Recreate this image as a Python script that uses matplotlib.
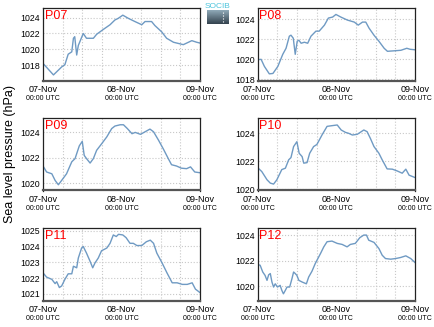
import numpy as np
import matplotlib
matplotlib.use('Agg')
import matplotlib.pyplot as plt

plt.rcParams['font.family'] = ['Liberation Sans', 'DejaVu Sans']

# hours since 07-Nov 00:00 UTC and sea level pressure (hPa) per station
p07_t = [0, 3.2, 5.7, 6.7, 7.7, 8.8, 9.3, 9.7, 10.3, 10.8, 12.3, 13.3, 15.4, 16.4, 18.4, 20.5,
         22, 23, 24.4, 26.1, 28.1, 30.2, 31.2, 33.2, 34.2, 36.3, 37.8, 39.9, 42.9, 45.5, 47, 48]
p07_v = [1018.25, 1016.8, 1017.8, 1018.1, 1019.4, 1019.7, 1021.4, 1021.6, 1019.3, 1020.5, 1022.0,
         1021.4, 1021.4, 1021.9, 1022.5, 1023.1, 1023.7, 1023.9, 1024.3, 1023.9, 1023.5, 1023.1,
         1023.5, 1023.5, 1023.0, 1022.2, 1021.4, 1020.9, 1020.6, 1021.1, 1020.9, 1020.8]

p08_t = [0, 1.1, 2.1, 3.6, 4.7, 6.2, 7.7, 8.7, 9.7, 10.2, 10.9, 11.5, 12.1, 12.6, 13.3, 14.3, 15.3,
         16.3, 17.8, 18.8, 20.4, 21.6, 22.9, 23.9, 25.4, 27.4, 29.5, 30.7, 32, 33, 34, 35.5, 37,
         38.6, 39.6, 41.7, 43.7, 45.5, 46.5, 48]
p08_v = [1019.97, 1020.0, 1019.3, 1018.56, 1018.6, 1019.3, 1020.5, 1021.1, 1022.3, 1022.4, 1022.1,
         1020.5, 1021.8, 1021.9, 1021.6, 1021.7, 1021.6, 1022.3, 1022.8, 1022.8, 1023.4, 1024.1,
         1024.2, 1024.46, 1024.2, 1023.9, 1023.7, 1023.4, 1023.7, 1023.7, 1023.1, 1022.4, 1021.8,
         1021.1, 1020.8, 1020.85, 1020.9, 1021.1, 1021.0, 1020.95]

p09_t = [0, 1.1, 2.7, 3.7, 4.7, 5.7, 7.2, 8.8, 9.8, 11.1, 12, 12.6, 13.3, 14.4, 15.4, 16.4, 17.9,
         19.5, 21, 22, 23.6, 24.6, 25.8, 27.2, 28.2, 29.8, 31.2, 32.7, 33.8, 35.3, 36.8, 38.3,
         39.3, 40.8, 42.3, 43.9, 45.1, 46.4, 48]
p09_v = [1021.37, 1020.9, 1020.76, 1020.24, 1019.9, 1020.24, 1020.76, 1021.7, 1021.95, 1022.95,
         1023.3, 1022.2, 1021.95, 1021.6, 1021.95, 1022.6, 1023.1, 1023.65, 1024.3, 1024.5, 1024.6,
         1024.6, 1024.3, 1023.9, 1024.0, 1023.85, 1024.05, 1024.26, 1024.05, 1023.4, 1022.7,
         1021.95, 1021.47, 1021.37, 1021.2, 1021.16, 1021.3, 1020.9, 1020.84]

p10_t = [0, 1.3, 2.9, 3.9, 4.9, 5.9, 7.4, 8.5, 9.5, 10.2, 11, 12, 12.7, 13.6, 14.1, 15.1, 15.9,
         17.1, 18.1, 19.7, 21.2, 22.7, 24.3, 25.5, 26.8, 27.8, 28.9, 30.4, 32.4, 33.4, 34.4, 35.5,
         37, 38, 39.5, 41.1, 42.6, 44.1, 45.2, 46.2, 48]
p10_v = [1021.55, 1021.26, 1020.67, 1020.43, 1020.36, 1020.67, 1021.4, 1021.5, 1022.1, 1022.26,
         1023.05, 1023.4, 1022.57, 1022.33, 1021.86, 1021.9, 1022.57, 1023.05, 1023.2, 1023.9,
         1024.5, 1024.55, 1024.6, 1024.24, 1024.07, 1024.0, 1023.88, 1023.93, 1024.24, 1024.12,
         1023.64, 1023.05, 1022.57, 1022.1, 1021.45, 1021.43, 1021.3, 1021.14, 1021.43, 1021.0,
         1020.83]

p11_t = [0, 1.1, 2.7, 3.7, 4.2, 5, 5.7, 6.7, 7.7, 8.8, 9.3, 10.3, 10.8, 11.8, 12.3, 13.3, 14.4,
         15.2, 15.9, 16.9, 17.9, 19.5, 20.5, 21.5, 22.4, 23.1, 24.4, 25.4, 26.6, 27.6, 28.7, 30.2,
         31.6, 32.8, 33.8, 34.8, 36.4, 37.9, 39.5, 41, 42.6, 44.1, 45.6, 46.6, 48]
p11_v = [1022.33, 1022.06, 1021.92, 1021.65, 1021.77, 1021.4, 1021.5, 1021.92, 1022.27, 1022.27,
         1022.75, 1022.65, 1023.27, 1023.9, 1024.0, 1023.58, 1023.06, 1022.65, 1022.96, 1023.27,
         1023.73, 1023.9, 1024.2, 1024.73, 1024.63, 1024.77, 1024.73, 1024.56, 1024.2, 1024.2,
         1024.06, 1024.06, 1024.3, 1024.4, 1024.2, 1023.58, 1022.96, 1022.33, 1021.7, 1021.7,
         1021.6, 1021.6, 1021.7, 1021.3, 1021.08]

p12_t = [0, 0.8, 1.6, 2.3, 2.9, 3.4, 3.9, 4.4, 4.9, 5.4, 6.1, 6.9, 7.4, 7.9, 8.5, 9, 9.8, 10.5,
         11, 11.5, 12, 12.6, 13.6, 14.9, 15.6, 16.6, 17.6, 19.2, 20.2, 21.2, 22.7, 24.3, 25.8,
         27.3, 28.3, 29.8, 31.2, 32.4, 33.2, 33.9, 35.5, 37, 38, 39, 40.6, 42.1, 43.6, 45.2,
         46.7, 48]
p12_v = [1021.7, 1021.65, 1021.12, 1020.86, 1020.47, 1020.9, 1021.0, 1020.34, 1019.95, 1020.2,
         1019.95, 1020.08, 1019.7, 1019.42, 1019.7, 1019.95, 1019.95, 1020.6, 1021.12, 1021.0,
         1020.86, 1020.47, 1020.34, 1020.2, 1020.73, 1021.18, 1021.78, 1022.56, 1023.08, 1023.48,
         1023.53, 1023.35, 1023.27, 1023.08, 1023.27, 1023.35, 1023.8, 1024.0, 1024.0, 1023.6,
         1023.43, 1022.95, 1022.43, 1022.17, 1022.12, 1022.17, 1022.25, 1022.38, 1022.17, 1021.86]

names = ['P07', 'P08', 'P09', 'P10', 'P11', 'P12']
series_t = [p07_t, p08_t, p09_t, p10_t, p11_t, p12_t]
series_v = [p07_v, p08_v, p09_v, p10_v, p11_v, p12_v]
ylims = [(1016.1, 1025.2), (1017.9, 1025.1), (1019.45, 1025.13),
         (1019.9, 1025.1), (1020.58, 1025.17), (1018.9, 1024.55)]
ystep = [2, 2, 2, 2, 1, 2]
day_ticks = [0, 24, 48]
day_labels = ['07-Nov', '08-Nov', '09-Nov']

W, H = 434, 327
fig = plt.figure(figsize=(W / 100, H / 100), dpi=100)

col_left = [43 / W, 257.5 / W]
col_w = [157 / W, 157.5 / W]
row_top = [8, 118, 228]
row_h = 72.5

line_color = '#6f9ac3'

for i, name in enumerate(names):
    r, c = divmod(i, 2)
    ax = fig.add_axes([col_left[c], 1 - (row_top[r] + row_h) / H, col_w[c], row_h / H])
    ax.plot(series_t[i], series_v[i], color=line_color, lw=1.0)
    ax.set_xlim(0, 48)
    ax.set_ylim(*ylims[i])
    lo = np.ceil(ylims[i][0] / ystep[i]) * ystep[i]
    ax.set_yticks(np.arange(lo, ylims[i][1], ystep[i]))
    ax.yaxis.set_major_formatter(matplotlib.ticker.FormatStrFormatter('%d'))
    ax.set_xticks(day_ticks)
    ax.set_xticklabels(day_labels)
    ax.set_xticks(np.arange(0, 49, 6), minor=True)
    ax.grid(True, which='minor', axis='x', color='#c8c8c8', ls=':', lw=0.8)
    ax.grid(True, which='major', axis='y', color='#c8c8c8', ls=':', lw=0.8)
    ax.tick_params(which='both', length=0)
    ax.tick_params(axis='x', labelsize=6.5, pad=3)
    ax.tick_params(axis='y', labelsize=6.3, pad=2)
    for s in ax.spines.values():
        s.set_color('#222222')
        s.set_linewidth(0.9)
    ax.spines['bottom'].set_color('#555555')
    ax.spines['bottom'].set_linewidth(1.6)
    for xt in day_ticks:
        ax.annotate('00:00 UTC', xy=(xt, 0), xycoords=('data', 'axes fraction'),
                    xytext=(0, -13), textcoords='offset points',
                    ha='center', va='center', fontsize=5)
    ax.text(0.01, 0.975, name, transform=ax.transAxes, color='red',
            fontsize=9, ha='left', va='top')

fig.text(10 / W, 1 - 154 / H, 'Sea level pressure (hPa)', rotation=90,
         ha='center', va='center', fontsize=9)

# small SOCIB logo
fig.text(218 / W, 1 - 6 / H, 'SOCIB', color='#4cc4dc', fontsize=6,
         ha='center', va='center')
lax = fig.add_axes([207 / W, 1 - 24 / H, 22 / W, 14 / H])
grad = np.tile(np.linspace(0, 1, 50).reshape(-1, 1), (1, 10))
lax.imshow(grad, aspect='auto', extent=[0, 1, 0, 1], origin='upper',
           cmap=matplotlib.colors.LinearSegmentedColormap.from_list(
               'logo', ['#8fa9b8', '#34434e']))
lax.plot([0.72, 0.72], [0.15, 0.85], color='white', ls=':', lw=0.8)
lax.set_xlim(0, 1)
lax.set_ylim(0, 1)
lax.axis('off')

fig.savefig('out.png', dpi=100)
